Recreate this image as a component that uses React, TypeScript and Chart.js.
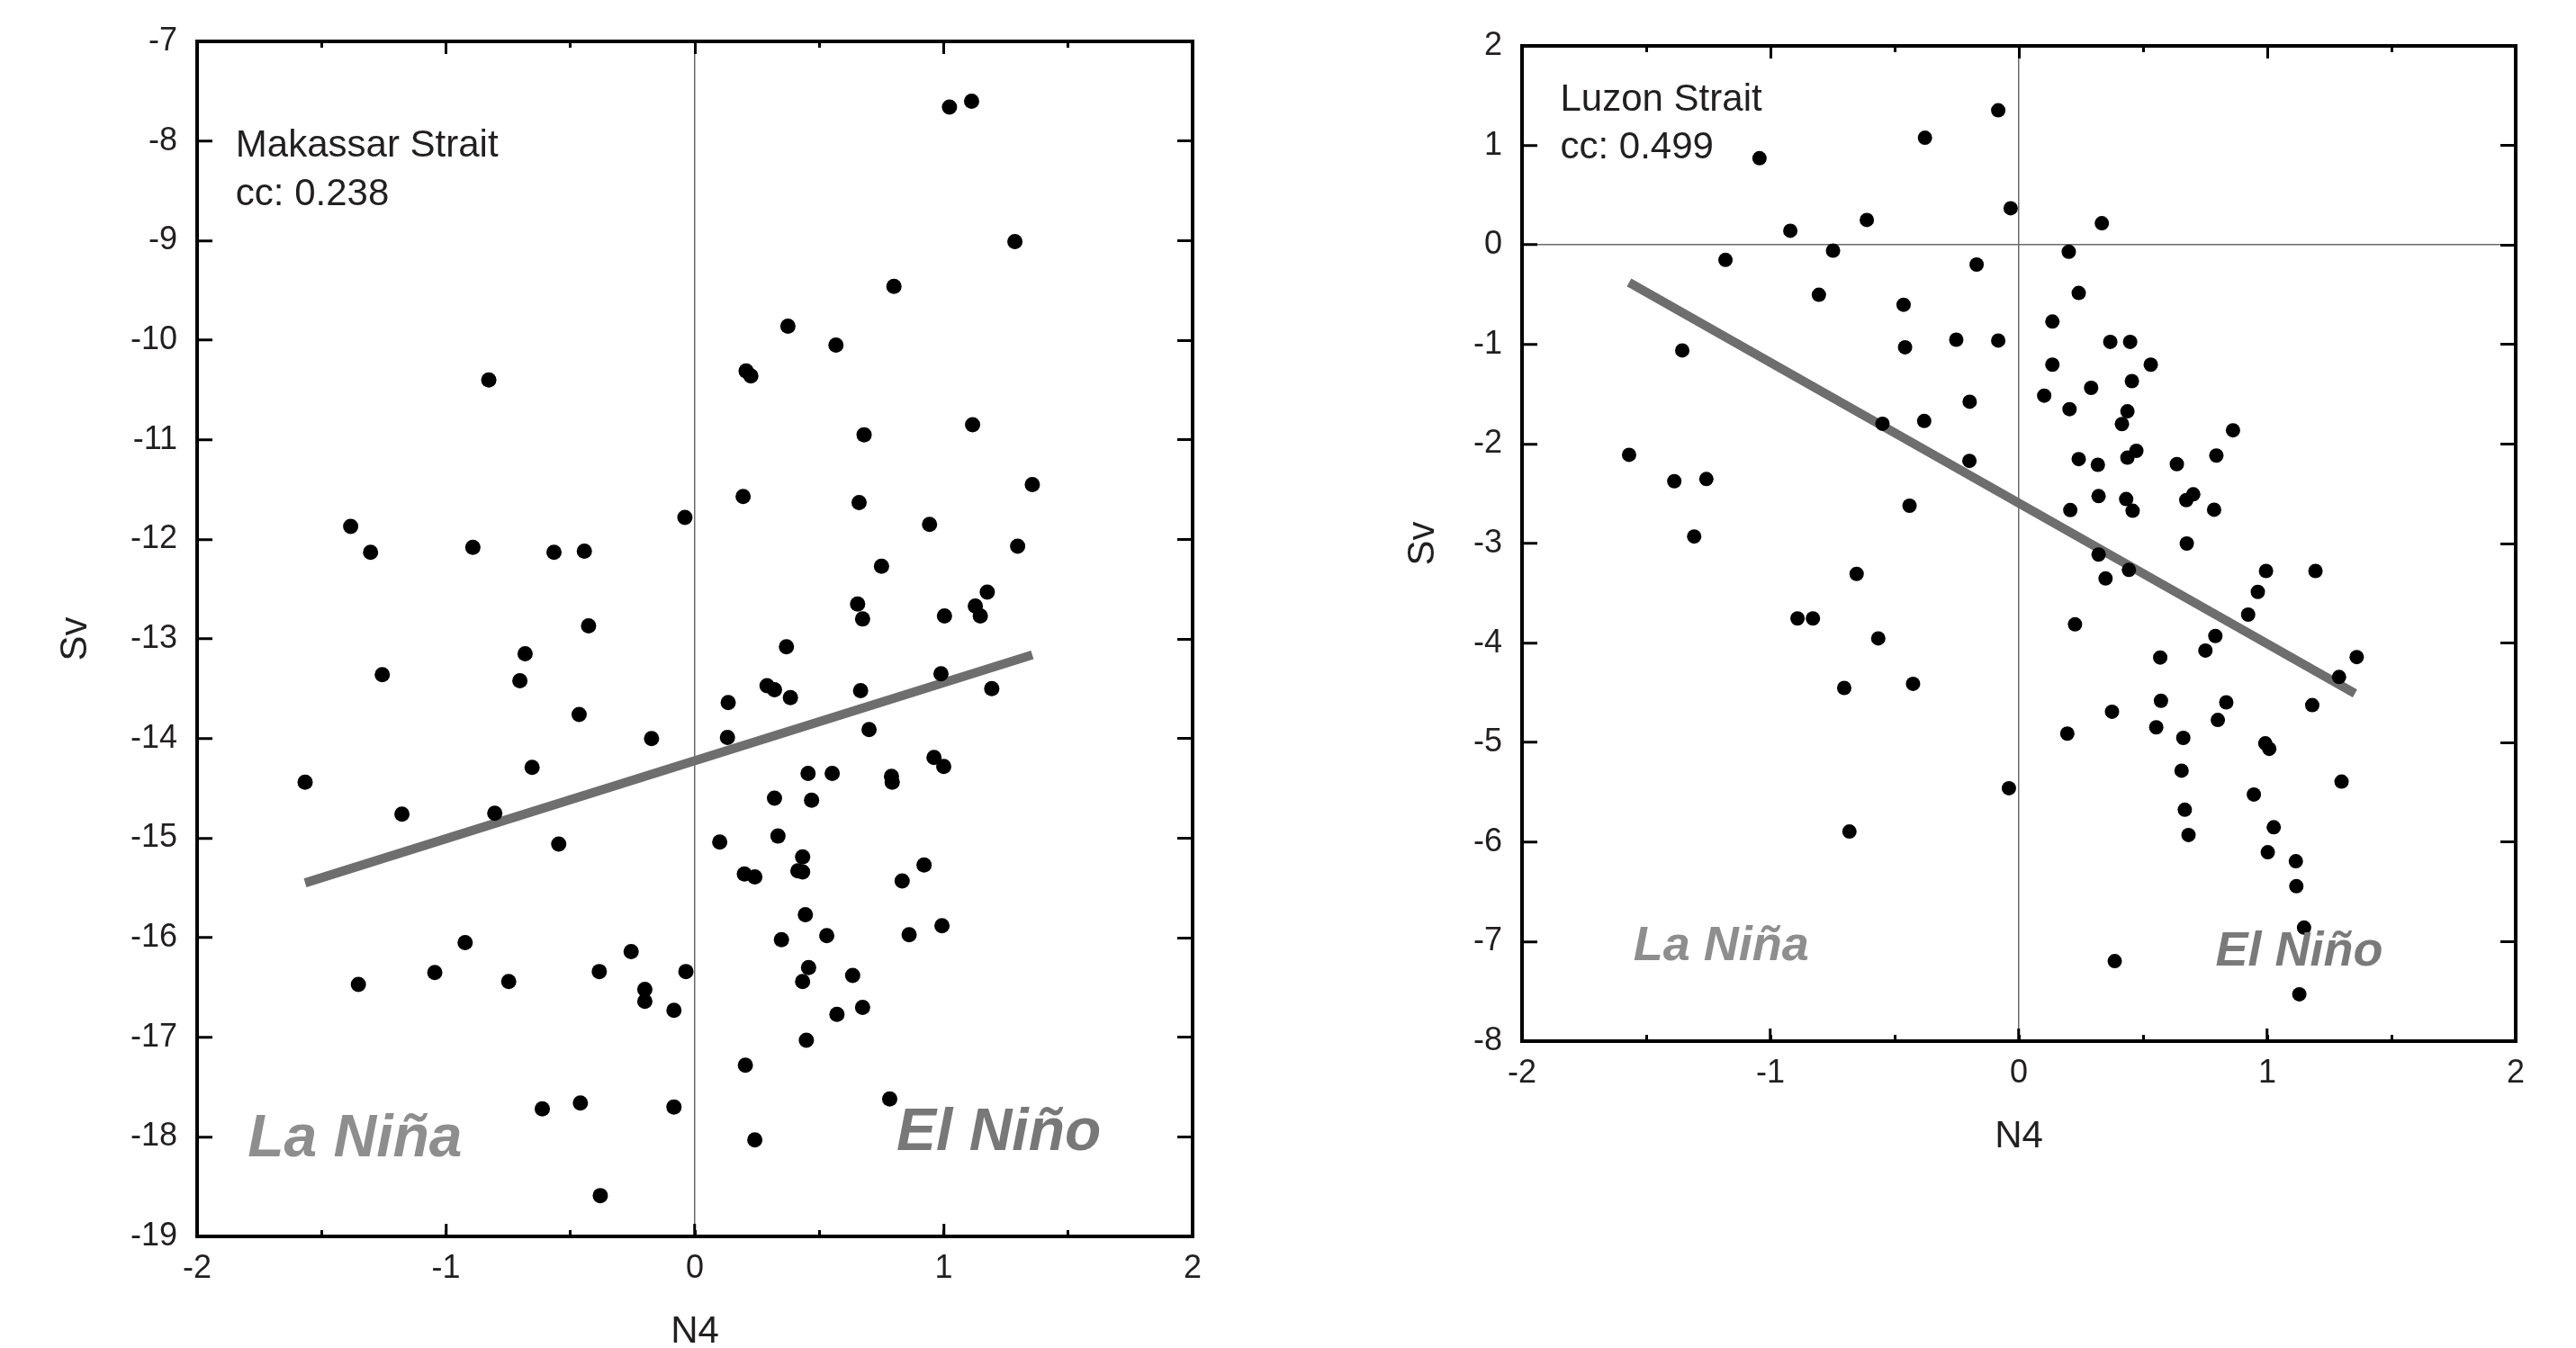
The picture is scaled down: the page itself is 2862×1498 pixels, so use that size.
import React, { useEffect, useRef } from "react";
import { Chart, registerables } from "chart.js";

Chart.register(...registerables);

const FONT_FAMILY = "'Liberation Sans', Arial, Helvetica, sans-serif";

// ---------------- Data: Makassar Strait (left panel) ----------------
const makassarN4 = [
  -0.828, -1.383, -1.303, -0.892, -0.566, -0.444, -0.04, -0.427, -0.682,
  1.023, 1.112, 1.286, 0.8, 0.374, 0.567, 0.206, 0.225, 1.116, 0.68, 0.194, 0.66, 1.356, 0.943, 1.297,
  0.75, 1.175, 0.654, 0.674, 1.003, 1.127, 1.147, 0.368,
  -1.256, -0.703, -0.465, -0.174, -1.566, -0.654, -1.177, -0.804, -0.547, -0.923, -1.352, -1.045,
  -0.748, -0.384, -0.256, -0.201, -0.201, -0.084, -0.036, -0.613, -0.46, -0.084, -0.38,
  0.29, 0.32, 0.384, 0.134, 0.666, 0.989, 1.193, 0.131, 0.7, 0.961, 1.0, 0.455, 0.552, 0.79, 0.793,
  0.32, 0.469, 0.1, 0.334, 0.433, 0.414, 0.433, 0.199, 0.241, 0.921, 0.833, 0.444, 0.53, 0.348,
  0.861, 0.993, 0.457, 0.433, 0.634, 0.674, 0.571, 0.448, 0.203, 0.783, 0.241,
];
const makassarSv = [
  -10.4, -11.87, -12.13, -12.08, -12.13, -12.12, -11.78, -12.87, -13.15,
  -7.66, -7.6, -9.01, -9.46, -9.86, -10.05, -10.31, -10.36, -10.85, -10.95, -11.57, -11.63, -11.45, -11.85, -12.07,
  -12.27, -12.53, -12.65, -12.8, -12.77, -12.67, -12.77, -13.08,
  -13.36, -13.42, -13.76, -14.0, -14.44, -14.29, -14.76, -14.75, -15.06, -16.05, -16.47, -16.35,
  -16.44, -16.34, -16.14, -16.52, -16.64, -16.73, -16.34, -17.72, -17.66, -17.7, -18.59,
  -13.47, -13.51, -13.59, -13.64, -13.52, -13.35, -13.5, -13.99, -13.91, -14.19, -14.28, -14.35, -14.35, -14.38, -14.44,
  -14.6, -14.62, -15.04, -14.98, -15.19, -15.33, -15.34, -15.36, -15.39, -15.27, -15.43, -15.77, -15.98, -16.02,
  -15.97, -15.88, -16.3, -16.44, -16.38, -16.7, -16.77, -17.03, -17.28, -17.62, -18.03,
];
const makassarFitN4 = [-1.566, 1.356];
const makassarFitSv = [-15.45, -13.16];
const makassarLabels = ["Makassar Strait", "cc: 0.238"];
const makassarSvRange = [-19, -7];

// ---------------- Data: Luzon Strait (right panel) ----------------
const luzonN4 = [
  -1.044, -0.378, -0.92, -0.612, -1.181, -0.748, -0.17, -0.805, -0.464, -1.355, -0.458, -0.252,
  -0.198, -0.381, -0.549, -0.199, -1.569, -1.387, -1.258, -0.44, -1.307, -0.653,
  -0.083, -0.033, 0.334, 0.201, 0.241, 0.135, -0.083, 0.368, 0.448, 0.135, 0.531, 0.455, 0.291,
  0.102, 0.204, 0.437, 0.415, 0.862, 0.473, 0.437, 0.241, 0.318, 0.636, 0.795, 0.321, 0.432,
  0.458, 0.207, 0.674, 0.702, 0.786, 0.676, 0.321, 0.443, 0.349, 0.995, 1.194,
  -0.891, -0.829, -0.566, -0.703, -0.426, -0.682,
  0.962, 0.923, 0.791, 0.751, 0.226, 0.569, 1.36, 1.289, 0.572, 0.835, 0.375, 1.181, 0.801,
  0.553, 0.195, 0.662, 0.992, 1.008, -0.04, 0.655, 1.299, 0.946, 0.668, 1.026, 0.683, 1.002,
  1.115, 1.117, 1.148, 0.386, 1.129,
];
const luzonSv = [
  0.871, 1.077, 0.143, 0.251, -0.15, -0.057, -0.197, -0.501, -0.601, -1.06, -1.028, -0.952,
  -1.575, -1.769, -1.797, -2.17, -2.109, -2.374, -2.352, -2.62, -2.929, -3.305,
  1.353, 0.369, 0.218, -0.068, -0.483, -0.77, -0.96, -0.974, -0.974, -1.203, -1.203, -1.368, -1.436,
  -1.514, -1.65, -1.672, -1.8, -1.862, -2.069, -2.137, -2.152, -2.209, -2.202, -2.116, -2.524, -2.553,
  -2.671, -2.664, -2.564, -2.506, -2.66, -3.0, -3.111, -3.265, -3.351, -3.276, -3.276,
  -3.753, -3.753, -3.953, -4.451, -4.41, -5.894,
  -3.486, -3.714, -3.929, -4.075, -3.812, -4.145, -4.141, -4.341, -4.58, -4.596, -4.69, -4.624, -4.773,
  -4.847, -4.91, -4.953, -5.008, -5.063, -5.459, -5.282, -5.392, -5.522, -5.675, -5.851, -5.929, -6.102,
  -6.192, -6.443, -6.859, -7.196, -7.529,
];
const luzonFitN4 = [-1.569, 1.353];
const luzonFitSv = [-0.376, -4.506];
const luzonLabels = ["Luzon Strait", "cc: 0.499"];
const luzonSvRange = [-8, 2];

// ---------------- Shared ----------------
const n4Range = [-2, 2];
const xAxisTitle = "N4";
const yAxisTitle = "Sv";
const laNinaText = "La Niña";
const elNinoText = "El Niño";

type Note = { text: string; x: number; y: number; font: string; color: string };

type PanelSpec = {
  left: number;
  width: number;
  height: number;
  padding: { left: number; top: number; right: number; bottom: number };
  yAxisWidth: number;
  xAxisHeight: number;
  xTitlePadBottom: number;
  yTitlePad: number;
  pointRadius: number;
  xs: number[];
  ys: number[];
  fitX: number[];
  fitY: number[];
  yRange: number[];
  zeroX: boolean;
  zeroY: boolean;
  notes: Note[];
};

const TEXT_DARK = "#231f20";

function buildConfig(p: PanelSpec): any {
  const points = p.xs.map((x, i) => ({ x, y: p.ys[i] }));
  const fit = p.fitX.map((x, i) => ({ x, y: p.fitY[i] }));
  const tickFont = { family: FONT_FAMILY, size: 36 };
  const titleFont = { family: FONT_FAMILY, size: 42, lineHeight: 1 };
  const fixH = (h: number) => (s: any) => {
    s.height = h;
    s.paddingLeft = 0;
    s.paddingRight = 0;
    s.paddingTop = 0;
    s.paddingBottom = 0;
  };
  const fixW = (w: number) => (s: any) => {
    s.width = w;
    s.paddingLeft = 0;
    s.paddingRight = 0;
    s.paddingTop = 0;
    s.paddingBottom = 0;
  };
  const hidden = "rgba(0,0,0,0)";
  const tickGrid = (len: number) => ({
    display: true,
    drawOnChartArea: false,
    drawTicks: true,
    tickLength: -len,
    tickWidth: 3,
    tickColor: "#000",
    color: hidden,
  });
  const zeroColor = (on: boolean) => (ctx: any) =>
    on && ctx.tick && ctx.tick.value === 0 ? "#6a6a6a" : hidden;

  const framePlugin = {
    id: "frame",
    afterDatasetsDraw(chart: any) {
      const { ctx, chartArea: a } = chart;
      ctx.save();
      ctx.strokeStyle = "#000";
      ctx.lineWidth = 4;
      ctx.strokeRect(a.left, a.top, a.right - a.left, a.bottom - a.top);
      ctx.restore();
    },
  };
  const notesPlugin = {
    id: "notes",
    afterDatasetsDraw(chart: any) {
      const { ctx } = chart;
      const sx = chart.scales.x;
      const sy = chart.scales.y;
      ctx.save();
      for (const n of p.notes) {
        ctx.font = n.font;
        ctx.fillStyle = n.color;
        ctx.textAlign = "left";
        ctx.textBaseline = "alphabetic";
        ctx.fillText(n.text, sx.getPixelForValue(n.x), sy.getPixelForValue(n.y));
      }
      ctx.restore();
    },
  };

  return {
    type: "scatter",
    data: {
      datasets: [
        {
          data: points,
          pointRadius: p.pointRadius,
          pointHoverRadius: p.pointRadius,
          pointBackgroundColor: "#000",
          pointBorderWidth: 0,
          showLine: false,
        },
        {
          data: fit,
          showLine: true,
          borderColor: "#6e6e6e",
          borderWidth: 10,
          borderCapStyle: "butt",
          pointRadius: 0,
          pointHoverRadius: 0,
          fill: false,
        },
      ],
    },
    options: {
      responsive: false,
      animation: false,
      devicePixelRatio: 1,
      events: [],
      layout: { padding: p.padding },
      plugins: { legend: { display: false }, tooltip: { enabled: false } },
      scales: {
        x: {
          type: "linear",
          axis: "x",
          position: "bottom",
          min: n4Range[0],
          max: n4Range[1],
          weight: 0,
          afterFit: fixH(p.xAxisHeight),
          border: { display: false },
          ticks: {
            stepSize: 1,
            autoSkip: false,
            maxRotation: 0,
            padding: 28,
            font: tickFont,
            color: TEXT_DARK,
          },
          grid: {
            display: true,
            drawOnChartArea: true,
            drawTicks: true,
            tickLength: -14,
            tickWidth: 3,
            tickColor: "#000",
            color: zeroColor(p.zeroX),
            lineWidth: 1.5,
          },
          title: {
            display: true,
            text: xAxisTitle,
            font: titleFont,
            color: TEXT_DARK,
            padding: { top: 0, bottom: p.xTitlePadBottom },
          },
        },
        xMinor: {
          type: "linear",
          axis: "x",
          position: "bottom",
          min: n4Range[0],
          max: n4Range[1],
          weight: -1,
          afterFit: fixH(0),
          border: { display: false },
          ticks: { display: false, stepSize: 0.5, autoSkip: false },
          grid: tickGrid(7),
        },
        xTop: {
          type: "linear",
          axis: "x",
          position: "top",
          min: n4Range[0],
          max: n4Range[1],
          afterFit: fixH(0),
          border: { display: false },
          ticks: { display: false, stepSize: 1, autoSkip: false },
          grid: tickGrid(14),
        },
        xTopMinor: {
          type: "linear",
          axis: "x",
          position: "top",
          min: n4Range[0],
          max: n4Range[1],
          afterFit: fixH(0),
          border: { display: false },
          ticks: { display: false, stepSize: 0.5, autoSkip: false },
          grid: tickGrid(7),
        },
        y: {
          type: "linear",
          axis: "y",
          position: "left",
          min: p.yRange[0],
          max: p.yRange[1],
          afterFit: fixW(p.yAxisWidth),
          border: { display: false },
          ticks: {
            stepSize: 1,
            autoSkip: false,
            padding: 39,
            font: tickFont,
            color: TEXT_DARK,
          },
          grid: {
            display: true,
            drawOnChartArea: true,
            drawTicks: true,
            tickLength: -17,
            tickWidth: 3,
            tickColor: "#000",
            color: zeroColor(p.zeroY),
            lineWidth: 1.5,
          },
          title: {
            display: true,
            text: yAxisTitle,
            font: titleFont,
            color: TEXT_DARK,
            padding: { top: p.yTitlePad, bottom: 0 },
          },
        },
        yRight: {
          type: "linear",
          axis: "y",
          position: "right",
          min: p.yRange[0],
          max: p.yRange[1],
          afterFit: fixW(0),
          border: { display: false },
          ticks: { display: false, stepSize: 1, autoSkip: false },
          grid: tickGrid(17),
        },
      },
    },
    plugins: [framePlugin, notesPlugin],
  };
}

function Panel({ spec }: { spec: PanelSpec }) {
  const ref = useRef<HTMLCanvasElement | null>(null);
  useEffect(() => {
    if (!ref.current) return;
    const chart = new Chart(ref.current, buildConfig(spec));
    return () => chart.destroy();
  }, [spec]);
  return (
    <canvas
      ref={ref}
      width={spec.width}
      height={spec.height}
      style={{
        position: "absolute",
        left: spec.left,
        top: 0,
        width: spec.width,
        height: spec.height,
      }}
    />
  );
}

const annot = (size: number) => `${size}px ${FONT_FAMILY}`;
const enso = (size: number) => `italic bold ${size}px ${FONT_FAMILY}`;

const leftSpec: PanelSpec = {
  left: 0,
  width: 1431,
  height: 1498,
  padding: { left: 0, top: 46, right: 106, bottom: 0 },
  yAxisWidth: 219,
  xAxisHeight: 124,
  xTitlePadBottom: -3,
  yTitlePad: 63,
  pointRadius: 8.5,
  xs: makassarN4,
  ys: makassarSv,
  fitX: makassarFitN4,
  fitY: makassarFitSv,
  yRange: makassarSvRange,
  zeroX: true,
  zeroY: false,
  notes: [
    { text: makassarLabels[0], x: -1.845, y: -8.155, font: annot(42), color: TEXT_DARK },
    { text: makassarLabels[1], x: -1.845, y: -8.643, font: annot(42), color: TEXT_DARK },
    { text: laNinaText, x: -1.797, y: -18.195, font: enso(66), color: "#8e8e8e" },
    { text: elNinoText, x: 0.81, y: -18.132, font: enso(66), color: "#787878" },
  ],
};

const rightSpec: PanelSpec = {
  left: 1431,
  width: 1431,
  height: 1498,
  padding: { left: 0, top: 51, right: 67, bottom: 214 },
  yAxisWidth: 260,
  xAxisHeight: 127,
  xTitlePadBottom: 0,
  yTitlePad: 129,
  pointRadius: 8,
  xs: luzonN4,
  ys: luzonSv,
  fitX: luzonFitN4,
  fitY: luzonFitSv,
  yRange: luzonSvRange,
  zeroX: true,
  zeroY: true,
  notes: [
    { text: luzonLabels[0], x: -1.846, y: 1.349, font: annot(42), color: TEXT_DARK },
    { text: luzonLabels[1], x: -1.846, y: 0.87, font: annot(42), color: TEXT_DARK },
    { text: laNinaText, x: -1.552, y: -7.186, font: enso(54), color: "#8e8e8e" },
    { text: elNinoText, x: 0.792, y: -7.241, font: enso(54), color: "#7a7a7a" },
  ],
};

export default function App() {
  return (
    <div
      style={{
        position: "absolute",
        left: 0,
        top: 0,
        width: 2862,
        height: 1498,
        background: "#fff",
        overflow: "hidden",
      }}
    >
      <Panel spec={leftSpec} />
      <Panel spec={rightSpec} />
    </div>
  );
}
